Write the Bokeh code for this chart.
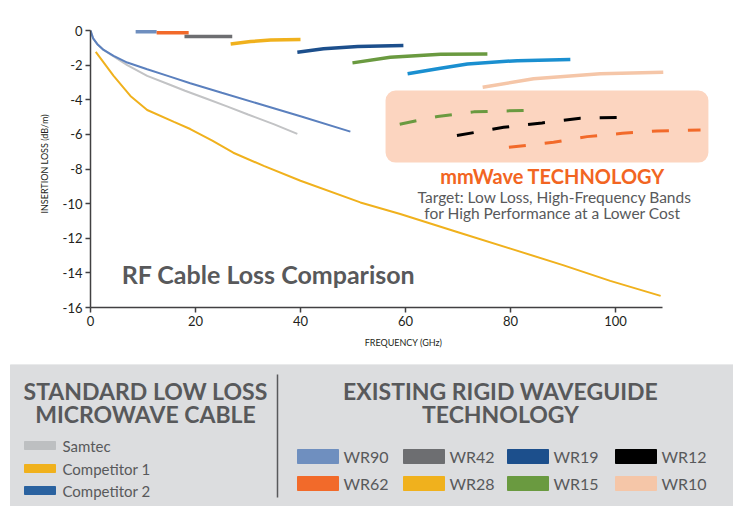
from bokeh.plotting import figure
from bokeh.models import Range1d, BoxAnnotation, Label, FixedTicker
from bokeh.embed import file_html
from bokeh.resources import INLINE
from bokeh.core.properties import value

# ---------------- data ----------------
x_ticks = [0, 20, 40, 60, 80, 100]
y_ticks = [0, -2, -4, -6, -8, -10, -12, -14, -16]

samtec_f = [0, 0.5, 1.3, 2.5, 4.4, 7, 10.8, 15, 18, 22, 26, 30, 35, 39.4]
samtec_db = [0, -0.45, -0.78, -1.12, -1.5, -2.0, -2.62, -3.12, -3.48, -3.93, -4.38, -4.85, -5.42, -5.97]

comp2_f = [0, 0.5, 1.3, 2.5, 4.4, 7, 10.8, 15, 19, 25, 31.7, 40, 49.5]
comp2_db = [0, -0.45, -0.79, -1.12, -1.46, -1.85, -2.24, -2.65, -3.05, -3.6, -4.2, -4.95, -5.84]

comp1_f = [1, 4.4, 7.6, 10.8, 15.9, 19, 23.2, 27.2, 33, 40, 51.4, 59, 70, 80, 90, 99, 108.6]
comp1_db = [-1.23, -2.62, -3.78, -4.59, -5.28, -5.69, -6.36, -7.06, -7.82, -8.68, -9.93,
            -10.6, -11.65, -12.6, -13.55, -14.46, -15.33]

wr90_f, wr90_db = [8.6, 12.6], [-0.075, -0.075]
wr62_f, wr62_db = [12.6, 18.7], [-0.13, -0.13]
wr42_f, wr42_db = [17.9, 27.0], [-0.35, -0.35]
wr28_f, wr28_db = [26.7, 30.5, 34.3, 40.0], [-0.78, -0.64, -0.55, -0.52]
wr19_f, wr19_db = [39.4, 44.4, 50.9, 59.6], [-1.25, -1.06, -0.93, -0.87]
wr15_f, wr15_db = [49.9, 57.1, 66.7, 75.6], [-1.87, -1.55, -1.37, -1.35]
wr12_f, wr12_db = [60.4, 66.7, 71.8, 81.3, 91.4], [-2.5, -2.18, -1.93, -1.74, -1.68]
wr10_f, wr10_db = [74.7, 84.4, 97.1, 109.1], [-3.28, -2.79, -2.5, -2.41]

mm_green_f, mm_green_db = [58.9, 66.1, 73.0, 83.0], [-5.41, -4.97, -4.70, -4.61]
mm_black_f, mm_black_db = [69.8, 78.7, 86.0, 93.3, 102.2], [-6.07, -5.59, -5.34, -5.07, -5.01]
mm_orange_f, mm_orange_db = [79.7, 88.2, 94.6, 101.3, 107.9, 116.2], [-6.75, -6.46, -6.13, -5.94, -5.8, -5.74]

cable_names = ["Samtec", "Competitor 1", "Competitor 2"]
cable_colors = ["#bdbfc1", "#f0b11d", "#2a62a0"]
wg_names = ["WR90", "WR42", "WR19", "WR12", "WR62", "WR28", "WR15", "WR10"]
wg_colors = ["#6f8fbf", "#6d6e71", "#1c4f8c", "#000000", "#f26a2a", "#f0b11d", "#6a9a40", "#f5c6a8"]

# ---------------- styles ----------------
FONT = "Lato"
TXT = "#58595b"
AX = "#414042"
W = 733
TOP_H = 364
BOT_H = 142

p = figure(width=W, height=TOP_H, x_range=Range1d(0, 119.24), y_range=Range1d(-16, 0.578),
           output_backend="svg", toolbar_location=None,
           min_border_left=90, min_border_right=17, min_border_top=20, min_border_bottom=57)
p.background_fill_color = "white"
p.border_fill_color = "white"
p.outline_line_color = None
p.grid.visible = False

for ax in (p.xaxis[0], p.yaxis[0]):
    ax.axis_line_color = AX
    ax.axis_line_width = 1.5
    ax.major_tick_line_color = AX
    ax.major_tick_line_width = 1.5
    ax.major_tick_in = 0
    ax.major_tick_out = 5
    ax.minor_tick_line_color = None
    ax.major_label_text_font = FONT
    ax.major_label_text_font_size = "13px"
    ax.major_label_text_color = "#231f20"
    ax.axis_label_text_font = FONT
    ax.axis_label_text_font_size = "9px"
    ax.axis_label_text_font_style = "normal"
    ax.axis_label_text_color = "#231f20"

p.xaxis.ticker = FixedTicker(ticks=x_ticks)
p.xaxis.bounds = (0, 109)
p.xaxis.axis_label = "FREQUENCY (GHz)"
p.xaxis.major_label_standoff = 3
p.xaxis.axis_label_standoff = 8
p.yaxis.ticker = FixedTicker(ticks=y_ticks)
p.yaxis.bounds = (-16, 0)
p.yaxis.axis_label = "INSERTION LOSS (dB/m)"
p.yaxis.major_label_overrides = {t: str(t) for t in y_ticks}
p.yaxis.major_label_standoff = 3
p.yaxis.axis_label_standoff = 10

# light panel border (canvas units)
p.add_layout(BoxAnnotation(left=9, right=727, top=5, bottom=420,
                           left_units="canvas", right_units="canvas",
                           top_units="canvas", bottom_units="canvas",
                           fill_alpha=0, line_color="#dedede", line_width=2,
                           level="underlay"))

# mmWave box
box = BoxAnnotation(left=56.2, right=117.7, top=-3.47, bottom=-7.63,
                    fill_color="#fcd5c0", fill_alpha=1, line_color=None,
                    border_radius=10, level="underlay")
p.add_layout(box)

# cables
p.line(samtec_f, samtec_db, line_color="#c2c3c5", line_width=2)
p.line(comp2_f, comp2_db, line_color="#5b80be", line_width=2)
p.line(comp1_f, comp1_db, line_color="#f0b11d", line_width=2)

# waveguides
wg_series = [
    (wr90_f, wr90_db, "#6f8fbf"),
    (wr62_f, wr62_db, "#f26a2a"),
    (wr42_f, wr42_db, "#6d6e71"),
    (wr28_f, wr28_db, "#f0b11d"),
    (wr19_f, wr19_db, "#1c4f8c"),
    (wr15_f, wr15_db, "#6a9a40"),
    (wr12_f, wr12_db, "#1a8fd0"),
    (wr10_f, wr10_db, "#f5c6a8"),
]
for f, db, c in wg_series:
    p.line(f, db, line_color=c, line_width=3.5)

# mmWave dashed
for f, db, c in [(mm_green_f, mm_green_db, "#6a9a40"),
                 (mm_black_f, mm_black_db, "#000000"),
                 (mm_orange_f, mm_orange_db, "#f26a2a")]:
    p.line(f, db, line_color=c, line_width=3, line_dash="17 19")

p.add_layout(Label(x=33.9, y=-14.05, text="RF Cable Loss Comparison", text_align="center",
                   text_baseline="middle", text_font=FONT, text_font_style="bold",
                   text_font_size="25px", text_color=TXT))
p.add_layout(Label(x=88.0, y=-8.39, text="mmWave TECHNOLOGY", text_align="center",
                   text_baseline="middle", text_font=FONT, text_font_style="bold",
                   text_font_size="20px", text_color="#f26522"))
p.add_layout(Label(x=88.4, y=-9.6, text="Target: Low Loss, High-Frequency Bands",
                   text_align="center", text_baseline="middle", text_font=FONT,
                   text_font_size="15.5px", text_color=TXT))
p.add_layout(Label(x=88.0, y=-10.55, text="for High Performance at a Lower Cost",
                   text_align="center", text_baseline="middle", text_font=FONT,
                   text_font_size="15.5px", text_color=TXT))

# ---------------- legend panel ----------------
b = figure(width=W, height=BOT_H, x_range=Range1d(0, 733), y_range=Range1d(506, 364),
           output_backend="svg", toolbar_location=None, min_border=0,
           x_axis_location=None, y_axis_location=None)
b.outline_line_color = None
b.grid.visible = False
b.background_fill_color = "white"
b.border_fill_color = "white"
b.quad(left=[10], right=[733], top=[364], bottom=[506], color="#dcdddf")

b.text(x=[145, 145], y=[390, 413], text=["STANDARD LOW LOSS", "MICROWAVE CABLE"],
       text_align="center", text_baseline="middle", text_font=value(FONT),
       text_font_style="bold", text_font_size="23px", text_color=TXT)
b.text(x=[500, 500], y=[390, 413], text=["EXISTING RIGID WAVEGUIDE", "TECHNOLOGY"],
       text_align="center", text_baseline="middle", text_font=value(FONT),
       text_font_style="bold", text_font_size="23px", text_color=TXT)
b.segment(x0=[277], y0=[374], x1=[277], y1=[497], line_color=TXT, line_width=1.5)

cable_y = [445, 468, 490]
b.quad(left=[24] * 3, right=[55] * 3, top=[y - 4 for y in cable_y],
       bottom=[y + 4 for y in cable_y], color=cable_colors)
b.text(x=[62] * 3, y=cable_y, text=cable_names, text_baseline="middle",
       text_font=value(FONT), text_font_size="15px", text_color=TXT)

col_x = [297, 403, 507, 615]
row_y = [456, 483]
sx, sy = [], []
for r in range(2):
    for c in range(4):
        sx.append(col_x[c])
        sy.append(row_y[r])
b.quad(left=sx, right=[x + 41 for x in sx], top=[y - 7 for y in sy],
       bottom=[y + 7 for y in sy], color=wg_colors)
b.text(x=[x + 46 for x in sx], y=sy, text=wg_names, text_baseline="middle",
       text_font=value(FONT), text_font_size="16px", text_color=TXT)

open("out.html", "w").write(file_html([p, b], INLINE))
